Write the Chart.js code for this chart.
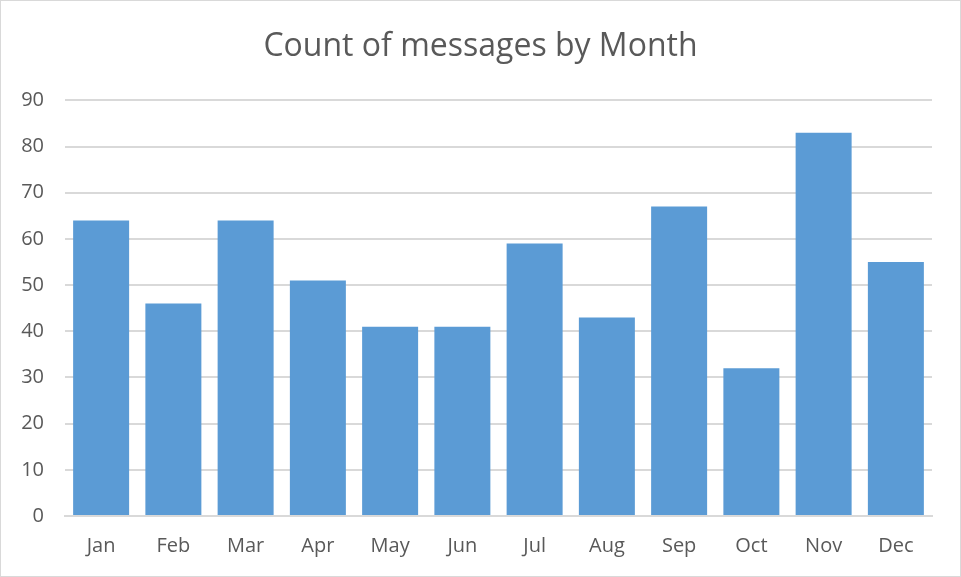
<!DOCTYPE html>
<html>
<head>
<meta charset="utf-8">
<script src="https://cdn.jsdelivr.net/npm/chart.js@4"></script>
<style>
  html, body { margin: 0; padding: 0; background: #fff; }
  #wrap { position: relative; width: 961px; height: 577px; box-sizing: border-box; border: 1px solid #d9d9d9; }
  #chart { display: block; }
</style>
</head>
<body>
<div id="wrap"><canvas id="chart" width="959" height="575"></canvas></div>
<script>
const months = ['Jan', 'Feb', 'Mar', 'Apr', 'May', 'Jun', 'Jul', 'Aug', 'Sep', 'Oct', 'Nov', 'Dec'];
const messageCounts = [64, 46, 64, 51, 41, 41, 59, 43, 67, 32, 83, 55];
const yTicks = [0, 10, 20, 30, 40, 50, 60, 70, 80, 90];

const textColor = '#595959';
const gridColor = '#d9d9d9';
const fontFamily = '"Open Sans", sans-serif';

const ctx = document.getElementById('chart').getContext('2d');
new Chart(ctx, {
  type: 'bar',
  data: {
    labels: months,
    datasets: [{
      label: 'Count of messages',
      data: messageCounts,
      backgroundColor: '#5b9bd5',
      borderWidth: 0,
      barPercentage: 0.775,
      categoryPercentage: 1
    }]
  },
  options: {
    responsive: false,
    animation: false,
    layout: { padding: 0 },
    plugins: {
      legend: { display: false },
      tooltip: { enabled: false },
      title: {
        display: true,
        text: 'Count of messages by Month',
        color: textColor,
        font: { family: fontFamily, size: 32, weight: 'normal' },
        padding: { top: 27, bottom: 34 }
      }
    },
    scales: {
      x: {
        grid: { display: false, drawTicks: false },
        border: { display: true, color: gridColor, width: 2 },
        ticks: { color: textColor, font: { family: fontFamily, size: 20 }, padding: 18 },
        afterFit: (axis) => { axis.height = 60; }
      },
      y: {
        min: 0,
        max: 90,
        afterBuildTicks: (axis) => { axis.ticks = yTicks.map(v => ({ value: v })); },
        grid: { color: gridColor, lineWidth: 2, drawTicks: false },
        border: { display: false },
        ticks: { color: textColor, font: { family: fontFamily, size: 20 }, padding: 21 },
        afterFit: (axis) => { axis.width = 64; }
      },
      // empty spacer on the right so the plot ends where the reference does
      // while the title stays centred on the whole box
      spacer: {
        type: 'linear',
        position: 'right',
        grid: { display: false, drawTicks: false },
        border: { display: false },
        ticks: { display: false },
        afterFit: (axis) => { axis.width = 28; }
      }
    }
  }
});
</script>
</body>
</html>
